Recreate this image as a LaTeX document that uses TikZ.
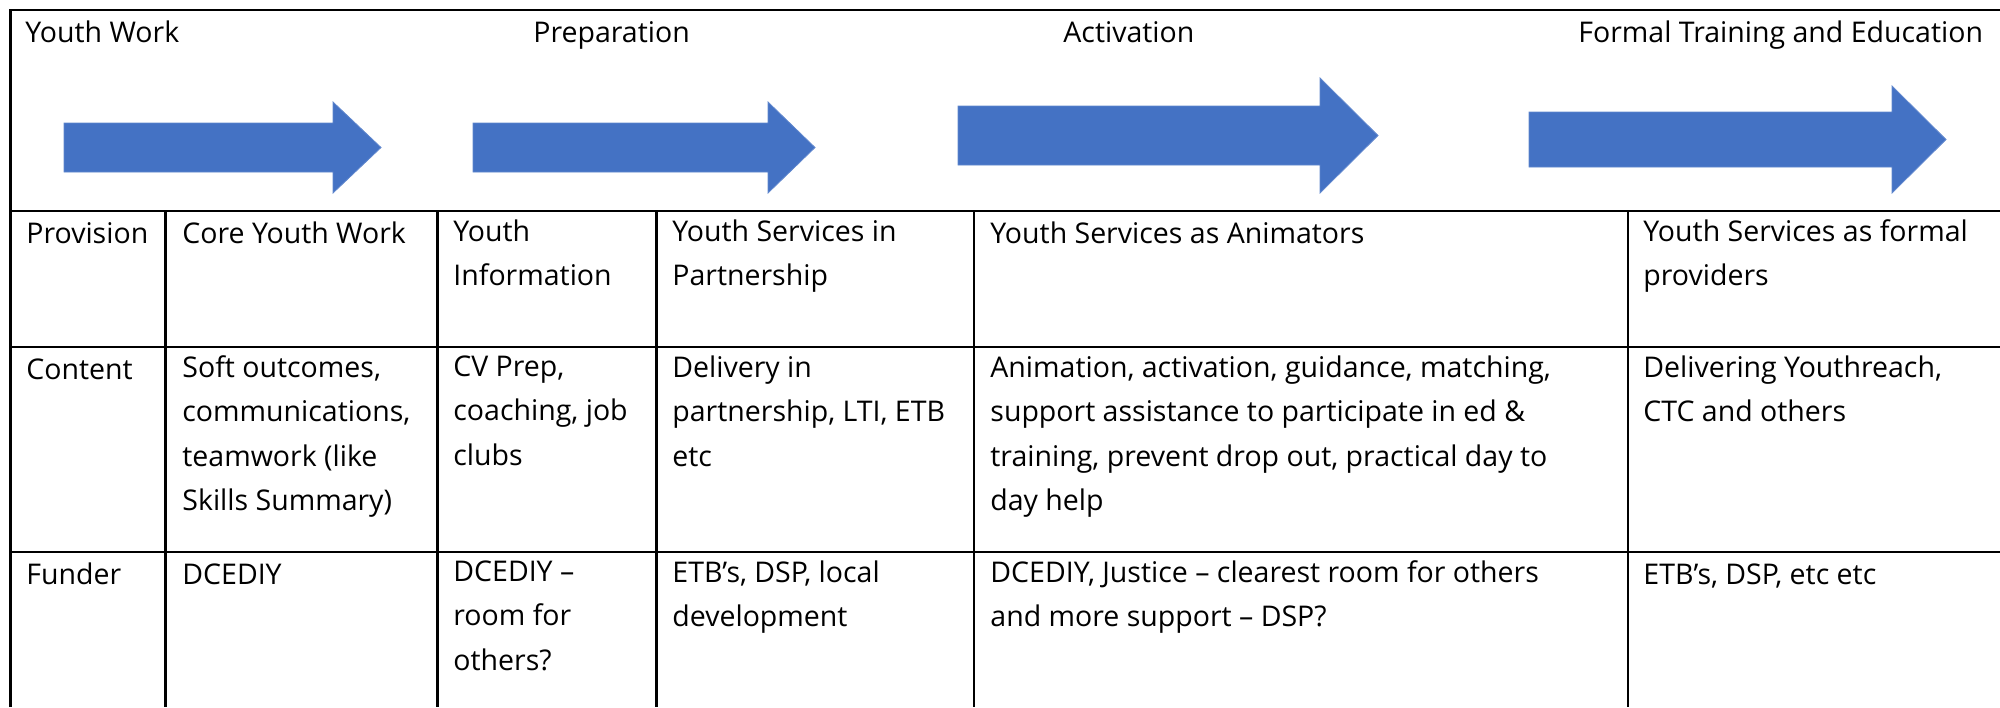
\documentclass[tikz,border=0pt]{standalone}
\usepackage{fontspec}
\setmainfont{Open Sans}
\definecolor{arrowblue}{HTML}{4472C4}
\newcommand\cellfont{\fontsize{14.25pt}{22.25pt}\selectfont}
\tikzset{
  cell/.style={anchor=north west, inner sep=0pt, align=left, font=\cellfont,
    yshift=12pt, execute at begin node={\rule{0pt}{12pt}}},
  rule/.style={line width=1.3pt, black},
  bigarrow/.style={fill=arrowblue, draw=arrowblue!85!white, line width=0.4pt}
}
\begin{document}
\begin{tikzpicture}[x=0.5pt,y=-0.5pt]
\useasboundingbox (0,0) rectangle (2000,707);
% frame and table rules
\draw[rule] (10.5,707) -- (10.5,10) -- (2000,10);
\draw[rule] (10.5,211) -- (2000,211);
\draw[rule] (10.5,347) -- (2000,347);
\draw[rule] (10.5,552) -- (2000,552);
\foreach \cx in {165.5,437.5,656.5,974,1628}{
  \draw[rule] (\cx,211) -- (\cx,707);
}
% arrows
\fill[bigarrow] (64,123) -- (333,123) -- (333,102) -- (381,147.5) -- (333,193) -- (333,172) -- (64,172) -- cycle;
\fill[bigarrow] (473,123) -- (768,123) -- (768,102) -- (815,147.5) -- (768,193) -- (768,172) -- (473,172) -- cycle;
\fill[bigarrow] (958,106) -- (1320,106) -- (1320,78) -- (1378,135.5) -- (1320,193) -- (1320,165) -- (958,165) -- cycle;
\fill[bigarrow] (1529,112) -- (1892,112) -- (1892,86) -- (1946,139.5) -- (1892,193) -- (1892,167) -- (1529,167) -- cycle;
% header labels
\node[cell] (h1) at (25,42) {Youth Work};
\node[cell] (h2) at (533,42) {Preparation};
\node[cell] (h3) at (1063,42) {Activation};
\node[cell] (h4) at (1578,42) {Formal Training and Education};
% row 1
\node[cell] (r1c1) at (26,243) {Provision};
\node[cell] (r1c2) at (182,243) {Core Youth Work};
\node[cell] (r1c3) at (453,243) {Youth\\Information};
\node[cell] (r1c4) at (672,243) {Youth Services in\\Partnership};
\node[cell] (r1c5) at (990,243) {Youth Services as Animators};
\node[cell] (r1c6) at (1643,243) {Youth Services as formal\\providers};
% row 2
\node[cell] (r2c1) at (26,379) {Content};
\node[cell] (r2c2) at (182,379) {Soft outcomes,\\communications,\\teamwork (like\\Skills Summary)};
\node[cell] (r2c3) at (453,379) {CV Prep,\\coaching, job\\clubs};
\node[cell] (r2c4) at (672,379) {Delivery in\\partnership, LTI, ETB\\etc};
\node[cell] (r2c5) at (990,379) {Animation, activation, guidance, matching,\\support assistance to participate in ed \&\\training, prevent drop out, practical day to\\day help};
\node[cell] (r2c6) at (1643,379) {Delivering Youthreach,\\CTC and others};
% row 3
\node[cell] (r3c1) at (26,584) {Funder};
\node[cell] (r3c2) at (182,584) {DCEDIY};
\node[cell] (r3c3) at (453,584) {DCEDIY –\\room for\\others?};
\node[cell] (r3c4) at (672,584) {ETB’s, DSP, local\\development};
\node[cell] (r3c5) at (990,584) {DCEDIY, Justice – clearest room for others\\and more support – DSP?};
\node[cell] (r3c6) at (1643,584) {ETB’s, DSP, etc etc};
\end{tikzpicture}
\end{document}
